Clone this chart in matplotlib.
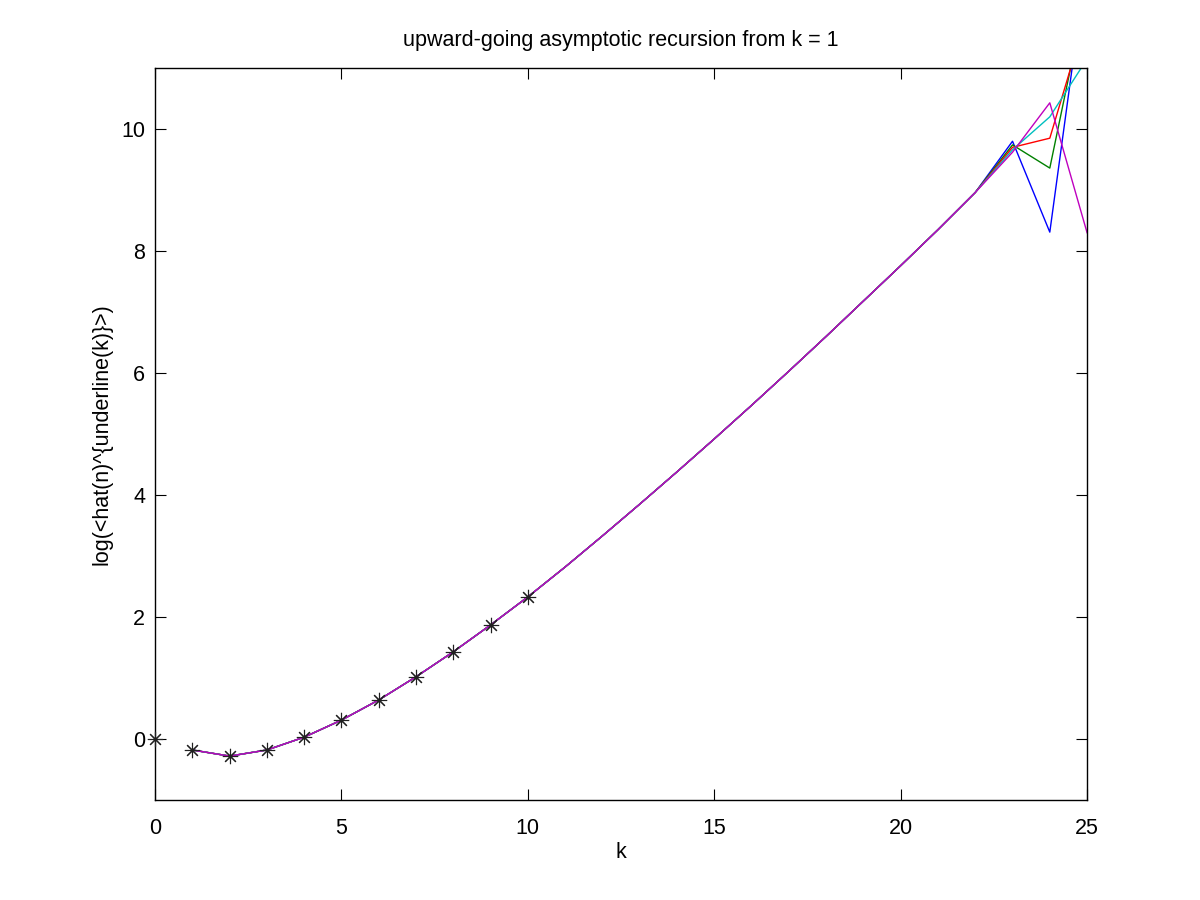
import numpy as np
import matplotlib
matplotlib.use("Agg")
import matplotlib.pyplot as plt

plt.rcParams["font.family"] = ["Liberation Sans", "DejaVu Sans"]

# exact values, k = 0..10
k_exact = [0, 1, 2, 3, 4, 5, 6, 7, 8, 9, 10]
y_exact = [0.0, -0.18, -0.28, -0.18, 0.03, 0.31, 0.64, 1.02, 1.43, 1.87, 2.33]

# recursion results, k = 1..25 (common part up to k = 22)
k_rec = list(range(1, 26))
common = [-0.18, -0.28, -0.18, 0.03, 0.31, 0.64, 1.02, 1.43, 1.87, 2.33,
          2.82, 3.33, 3.85, 4.38, 4.92, 5.47, 6.03, 6.60, 7.18, 7.76,
          8.35, 8.96]
tail_blue = [9.80, 8.31, 12.8]
tail_green = [9.74, 9.36, 12.3]
tail_red = [9.70, 9.85, 11.9]
tail_cyan = [9.66, 10.20, 11.15]
tail_magenta = [9.62, 10.43, 8.30]

series = [
    (common + tail_blue, "#0000ff"),
    (common + tail_green, "#008000"),
    (common + tail_red, "#ff0000"),
    (common + tail_cyan, "#00bfbf"),
    (common + tail_magenta, "#bf00bf"),
]

fig = plt.figure(figsize=(12, 9), dpi=100)
ax = fig.add_axes([0.1292, 0.1111, 0.7767, 0.8133])

for vals, col in series:
    ax.plot(k_rec, vals, color=col, linewidth=1.0)

ax.plot(k_exact, y_exact, linestyle="none", marker=(8, 2, 0), color="#202020",
        markersize=11, markeredgewidth=0.8, clip_on=False, zorder=5)

ax.set_xlim(0, 25)
ax.set_ylim(-1, 11)
ax.set_xticks([0, 5, 10, 15, 20, 25])
ax.set_yticks([0, 2, 4, 6, 8, 10])
ax.tick_params(direction="in", top=True, right=True, length=8, width=0.8,
               labelsize=15.5)
ax.tick_params(axis="x", pad=13)
ax.tick_params(axis="y", pad=7)
for s in ax.spines.values():
    s.set_linewidth(1.0)

ax.set_title("upward-going asymptotic recursion from k = 1", fontsize=15.5, pad=16)
ax.set_xlabel("k", fontsize=15.5, labelpad=2)
ax.set_ylabel("log(<hat(n)^{underline(k)}>)", fontsize=15.5, labelpad=6)

fig.savefig("out.png", dpi=100)
